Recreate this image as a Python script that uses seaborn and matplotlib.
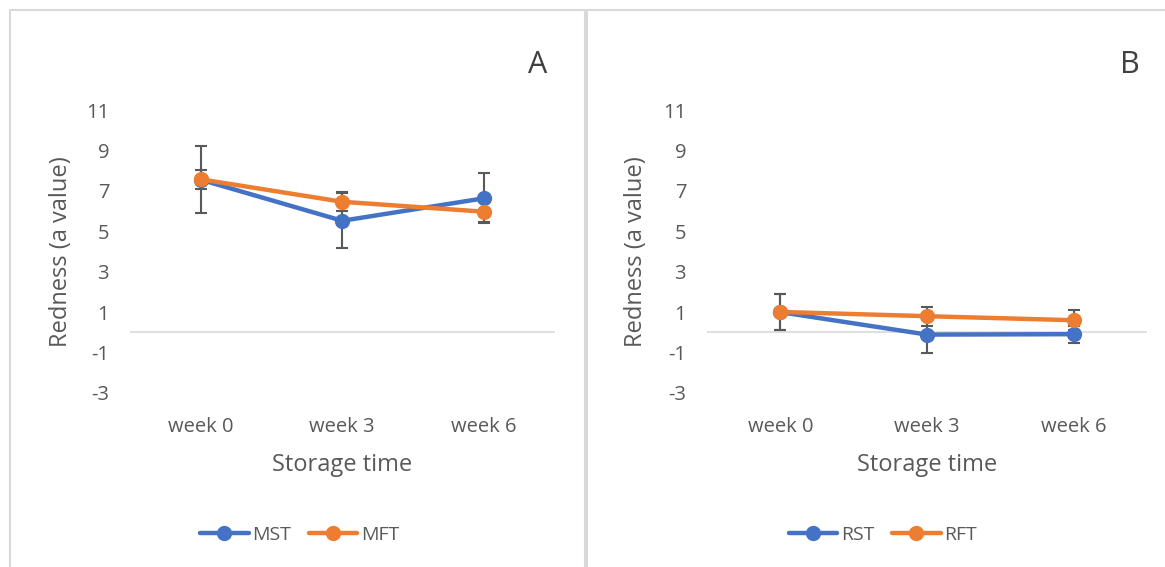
import pandas as pd
import matplotlib.pyplot as plt
import seaborn as sns
from matplotlib.lines import Line2D
from matplotlib.patches import Rectangle

weeks = ["week 0", "week 3", "week 6"]

# panel A
mst = [7.55, 5.52, 6.63]
mst_err = [1.65, 1.36, 1.24]
mft = [7.57, 6.46, 5.97]
mft_err = [0.47, 0.47, 0.5]

# panel B
rst = [1.0, -0.11, -0.09]
rst_err = [0.9, 0.93, 0.42]
rft = [1.01, 0.80, 0.60]
rft_err = [0.9, 0.47, 0.5]

blue = "#4472C4"
orange = "#ED7D31"
grey = "#595959"


def draw_panel(ax, names, vals, errs, letter):
    df = pd.DataFrame({"week": weeks * 2,
                       "value": vals[0] + vals[1],
                       "series": [names[0]] * 3 + [names[1]] * 3})
    for v, e in zip(vals, errs):
        ax.errorbar(weeks, v, yerr=e, fmt="none", ecolor=grey, elinewidth=1.5,
                    capsize=4.5, capthick=1.5, zorder=2)
    sns.lineplot(data=df, x="week", y="value", hue="series", palette=[blue, orange],
                 marker="o", markersize=11, markeredgewidth=0, linewidth=3.2,
                 legend=False, ax=ax, zorder=3)
    ax.axhline(0, color="#d9d9d9", linewidth=1.2, zorder=1)
    ax.set_xlim(-0.5, 2.5)
    ax.set_ylim(-3, 11)
    ax.set_yticks(range(-3, 12, 2))
    for s in ax.spines.values():
        s.set_visible(False)
    ax.tick_params(axis="both", length=0, labelsize=14.5, colors=grey)
    ax.tick_params(axis="y", pad=15)
    ax.tick_params(axis="x", pad=17)
    ax.set_xlabel("Storage time", fontsize=17, color=grey)
    ax.set_ylabel("Redness (a value)", fontsize=17, color=grey)
    ax.xaxis.set_label_coords(0.5, -0.213)
    ax.yaxis.set_label_coords(-0.134, 0.5)
    ax.text(0.96, 1.16, letter, transform=ax.transAxes, fontsize=22,
            color="#404040", ha="center", va="center")
    handles = [Line2D([], [], color=blue, lw=3.2, marker="o", markersize=11, markeredgewidth=0),
               Line2D([], [], color=orange, lw=3.2, marker="o", markersize=11, markeredgewidth=0)]
    leg = ax.legend(handles, names, loc="center", bbox_to_anchor=(0.40, -0.5), ncol=2,
                    frameon=False, fontsize=14, handlelength=2.5, handletextpad=0.2,
                    columnspacing=0.9)
    for t in leg.get_texts():
        t.set_color(grey)


sns.set_theme(style="white")
plt.rcParams["font.family"] = ["Open Sans", "DejaVu Sans"]
plt.rcParams["axes.unicode_minus"] = False

fig = plt.figure(figsize=(11.65, 5.67), dpi=100)
W, H = 1165, 567
ax1 = fig.add_axes([130 / W, 1 - 393 / H, 424.5 / W, 283 / H])
ax2 = fig.add_axes([707 / W, 1 - 393 / H, 440 / W, 283 / H])

draw_panel(ax1, ["MST", "MFT"], [mst, mft], [mst_err, mft_err], "A")
draw_panel(ax2, ["RST", "RFT"], [rst, rft], [rst_err, rft_err], "B")

for x0, x1 in [(10, 585), (587, 1170)]:
    fig.patches.append(Rectangle((x0 / W, -0.01), (x1 - x0) / W, 1 - 10 / H + 0.01,
                                 transform=fig.transFigure, fill=False,
                                 edgecolor="#d9d9d9", linewidth=1.5))

fig.savefig("out.png", dpi=100)
